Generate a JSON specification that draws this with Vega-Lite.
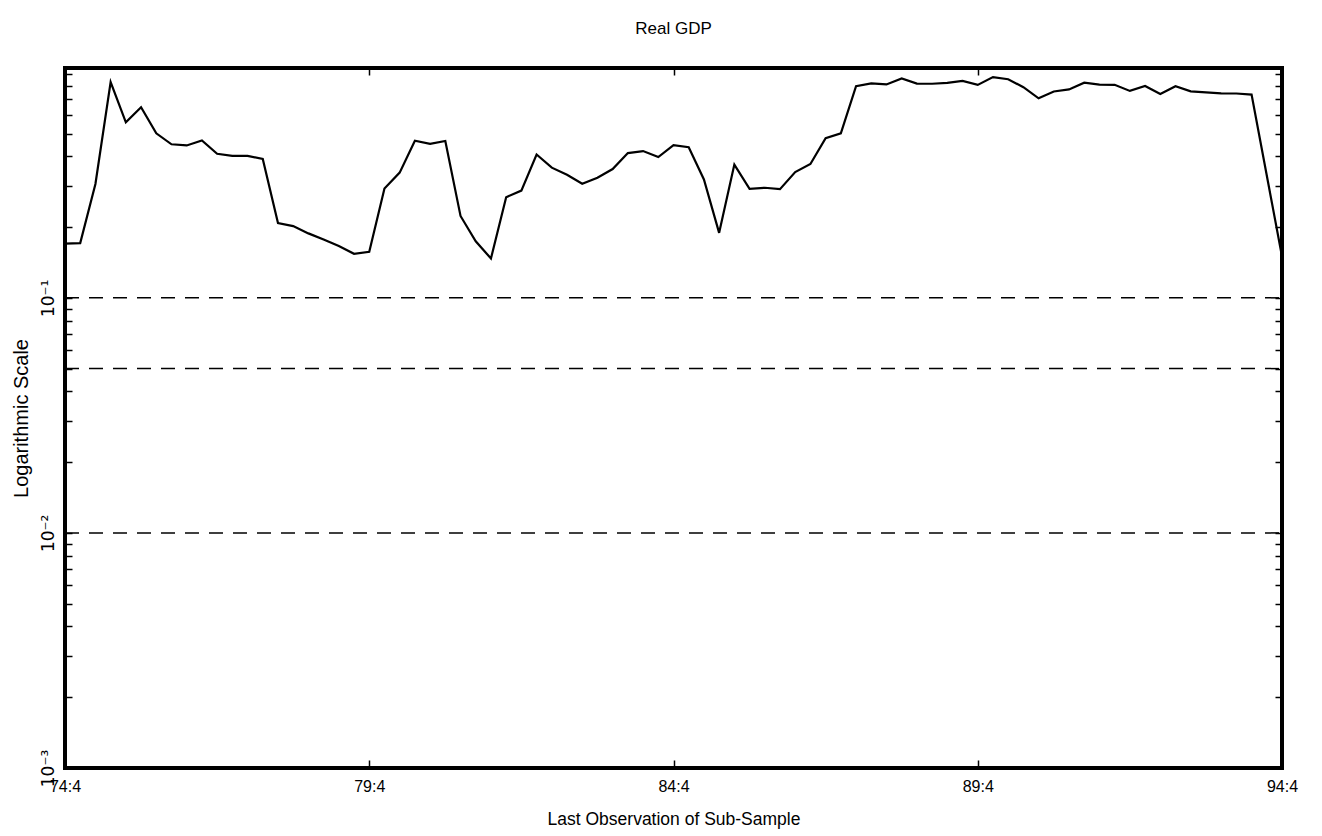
{
  "$schema": "https://vega.github.io/schema/vega-lite/v6.json",
  "width": 1217,
  "height": 700,
  "autosize": "none",
  "padding": {"left": 65, "top": 68, "right": 40, "bottom": 68},
  "background": "white",
  "title": {"text": "Real GDP", "fontSize": 17, "fontWeight": "normal", "font": "Liberation Sans", "offset": 29, "color": "black"},
  "config": {
    "view": {"stroke": "black", "strokeWidth": 4},
    "font": "Liberation Sans",
    "axis": {"domain": false, "grid": false, "tickColor": "black", "labelColor": "black", "titleColor": "black", "labelFont": "Liberation Sans", "titleFont": "Liberation Sans", "titleFontWeight": "normal"}
  },
  "layer": [
    {
      "data": {"values": [
        {"t": 0, "v": 0.170}, {"t": 1, "v": 0.171}, {"t": 2, "v": 0.305}, {"t": 3, "v": 0.828},
        {"t": 4, "v": 0.558}, {"t": 5, "v": 0.647}, {"t": 6, "v": 0.501}, {"t": 7, "v": 0.450},
        {"t": 8, "v": 0.445}, {"t": 9, "v": 0.467}, {"t": 10, "v": 0.410}, {"t": 11, "v": 0.402},
        {"t": 12, "v": 0.402}, {"t": 13, "v": 0.390}, {"t": 14, "v": 0.208}, {"t": 15, "v": 0.202},
        {"t": 16, "v": 0.188}, {"t": 17, "v": 0.177}, {"t": 18, "v": 0.166}, {"t": 19, "v": 0.154},
        {"t": 20, "v": 0.157}, {"t": 21, "v": 0.292}, {"t": 22, "v": 0.341}, {"t": 23, "v": 0.466},
        {"t": 24, "v": 0.452}, {"t": 25, "v": 0.465}, {"t": 26, "v": 0.223}, {"t": 27, "v": 0.174},
        {"t": 28, "v": 0.147}, {"t": 29, "v": 0.268}, {"t": 30, "v": 0.286}, {"t": 31, "v": 0.407},
        {"t": 32, "v": 0.358}, {"t": 33, "v": 0.334}, {"t": 34, "v": 0.306}, {"t": 35, "v": 0.324},
        {"t": 36, "v": 0.353}, {"t": 37, "v": 0.413}, {"t": 38, "v": 0.421}, {"t": 39, "v": 0.397},
        {"t": 40, "v": 0.446}, {"t": 41, "v": 0.437}, {"t": 42, "v": 0.319}, {"t": 43, "v": 0.189},
        {"t": 44, "v": 0.369}, {"t": 45, "v": 0.291}, {"t": 46, "v": 0.294}, {"t": 47, "v": 0.290},
        {"t": 48, "v": 0.343}, {"t": 49, "v": 0.371}, {"t": 50, "v": 0.478}, {"t": 51, "v": 0.501},
        {"t": 52, "v": 0.795}, {"t": 53, "v": 0.817}, {"t": 54, "v": 0.809}, {"t": 55, "v": 0.857},
        {"t": 56, "v": 0.815}, {"t": 57, "v": 0.814}, {"t": 58, "v": 0.821}, {"t": 59, "v": 0.837},
        {"t": 60, "v": 0.805}, {"t": 61, "v": 0.869}, {"t": 62, "v": 0.851}, {"t": 63, "v": 0.787},
        {"t": 64, "v": 0.706}, {"t": 65, "v": 0.755}, {"t": 66, "v": 0.770}, {"t": 67, "v": 0.823},
        {"t": 68, "v": 0.807}, {"t": 69, "v": 0.806}, {"t": 70, "v": 0.759}, {"t": 71, "v": 0.796},
        {"t": 72, "v": 0.736}, {"t": 73, "v": 0.795}, {"t": 74, "v": 0.756}, {"t": 75, "v": 0.748},
        {"t": 76, "v": 0.741}, {"t": 77, "v": 0.740}, {"t": 78, "v": 0.732}, {"t": 80, "v": 0.150}
      ]},
      "mark": {"type": "line", "color": "black", "strokeWidth": 2.2},
      "encoding": {
        "x": {
          "field": "t", "type": "quantitative",
          "scale": {"domain": [0, 80], "nice": false, "zero": false},
          "axis": {
            "orient": "bottom", "values": [0, 20, 40, 60, 80],
            "labelExpr": "['74:4','79:4','84:4','89:4','94:4'][round(datum.value/20)]",
            "tickSize": -8, "tickWidth": 1.5, "labelPadding": 18, "labelFontSize": 16,
            "labelFlush": false,
            "title": "Last Observation of Sub-Sample", "titleFontSize": 17.5, "titlePadding": 16
          }
        },
        "y": {
          "field": "v", "type": "quantitative",
          "scale": {"type": "log", "domain": [0.001, 0.95], "nice": false},
          "axis": {
            "orient": "left",
            "values": [0.001, 0.002, 0.003, 0.004, 0.005, 0.006, 0.007, 0.008, 0.009, 0.01, 0.02, 0.03, 0.04, 0.05, 0.06, 0.07, 0.08, 0.09, 0.1, 0.2, 0.3, 0.4, 0.5, 0.6, 0.7, 0.8, 0.9],
            "labelExpr": "datum.value == 0.1 ? '10⁻¹' : datum.value == 0.01 ? '10⁻²' : datum.value == 0.001 ? '10⁻³' : ''",
            "labelAngle": -90, "labelAlign": "center", "labelBaseline": "bottom",
            "labelFont": "DejaVu Sans",
            "tickSize": -7, "tickWidth": 1.5, "labelPadding": 15, "labelFontSize": 17,
            "labelFlush": false, "labelOverlap": false,
            "title": "Logarithmic Scale", "titleFontSize": 20, "titlePadding": 8
          }
        }
      }
    },
    {
      "data": {"values": [{"level": 0.1}, {"level": 0.05}, {"level": 0.01}]},
      "mark": {"type": "rule", "color": "black", "strokeWidth": 1.5, "strokeDash": [14, 10]},
      "encoding": {
        "x": {"datum": 0, "type": "quantitative", "axis": {"orient": "top", "values": [20, 40, 60], "labels": false, "tickSize": -7, "tickWidth": 1.5, "title": null}},
        "x2": {"datum": 80},
        "y": {
          "field": "level", "type": "quantitative",
          "axis": {
            "orient": "right",
            "values": [0.001, 0.002, 0.003, 0.004, 0.005, 0.006, 0.007, 0.008, 0.009, 0.01, 0.02, 0.03, 0.04, 0.05, 0.06, 0.07, 0.08, 0.09, 0.1, 0.2, 0.3, 0.4, 0.5, 0.6, 0.7, 0.8, 0.9],
            "labels": false, "tickSize": -7, "tickWidth": 1.5, "title": null
          }
        }
      }
    }
  ],
  "resolve": {"axis": {"x": "independent", "y": "independent"}}
}
